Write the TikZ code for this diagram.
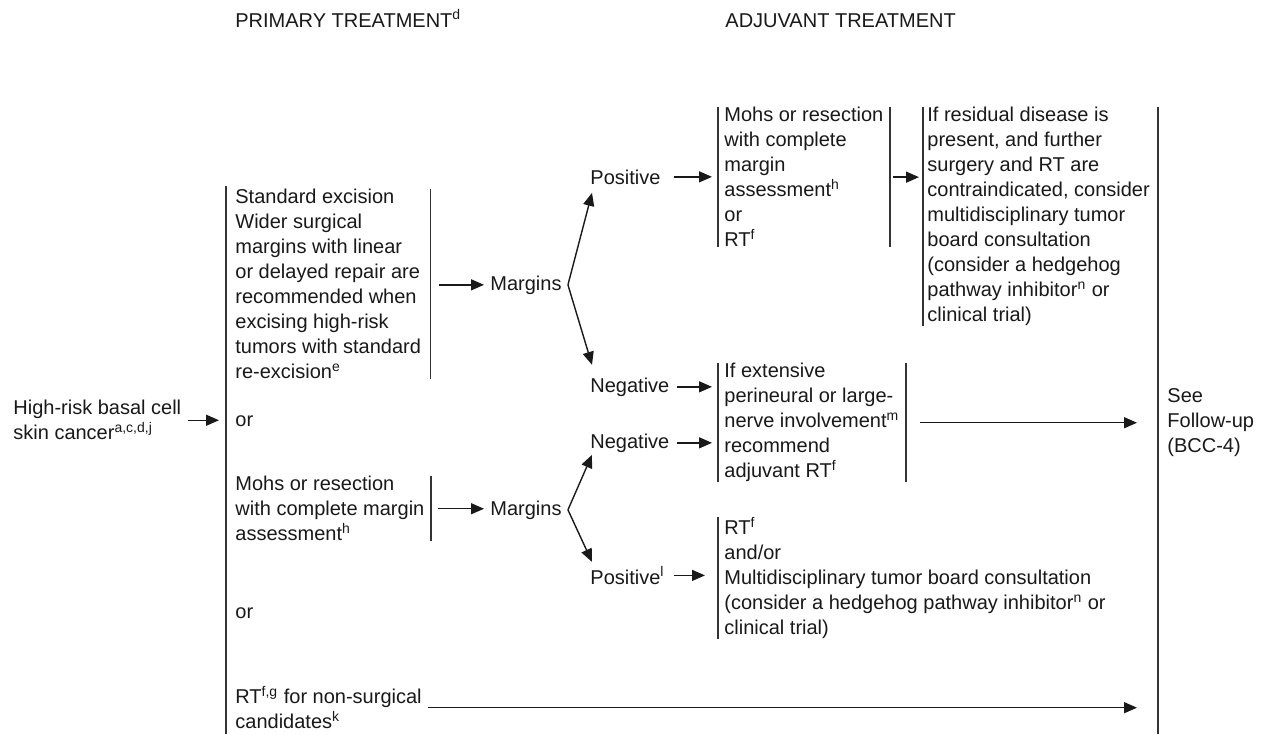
\documentclass[tikz,border=0pt]{standalone}
\usepackage{fontspec}
\setmainfont{Liberation Sans}
\usepackage{tikz}
\usetikzlibrary{arrows.meta,calc,positioning}

\begin{document}
\begin{tikzpicture}[
  x=0.5pt, y=-0.5pt,
  every node/.style={font=\fontsize{10}{12.5}\selectfont, text=black!90, inner xsep=3pt, inner ysep=0pt},
  lbl/.style={anchor=base west},
  blk/.style={anchor=north west, align=left},
  rule/.style={draw=black!80, line width=0.8pt},
  arr/.style={draw=black!90, line width=0.7pt, -{Triangle[length=6.5pt,width=5.5pt]}}
]
\fill[white] (0,0) rectangle (1267,734);
\useasboundingbox (0,0) rectangle (1267,734);
\coordinate (bot) at (0,734);

% headings
\node[lbl] (hdrP) at (229,27) {PRIMARY TREATMENT\textsuperscript{d}};
\node[lbl] (hdrA) at (719,27) {ADJUVANT TREATMENT};

% primary treatment
\node[blk] (bcc) at (7,400) {High-risk basal cell\\skin cancer\textsuperscript{a,c,d,j}};
\node[blk] (exc) at (229,189) {Standard excision\\Wider surgical\\margins with linear\\or delayed repair are\\recommended when\\excising high-risk\\tumors with standard\\re-excision\textsuperscript{e}};
\node[lbl] (or1) at (229,426) {or};
\node[blk] (mohs) at (229,476) {Mohs or resection\\with complete margin\\assessment\textsuperscript{h}};
\node[lbl] (or2) at (229,618) {or};
\node[blk] (rt) at (229,686) {RT\textsuperscript{f,g} for non-surgical\\candidates\textsuperscript{k}};

% margins
\node[lbl] (mar1) at (484,290) {Margins};
\node[lbl] (mar2) at (484,515) {Margins};
\node[lbl] (pos1) at (584,184) {Positive};
\node[lbl] (neg1) at (584,392) {Negative};
\node[lbl] (neg2) at (584,448) {Negative};
\node[lbl] (pos2) at (584,584) {Positive\textsuperscript{l}};

% adjuvant treatment
\node[blk] (reex) at (718,107) {Mohs or resection\\with complete\\margin\\assessment\textsuperscript{h}\\or\\RT\textsuperscript{f}};
\node[blk] (resid) at (921,107) {If residual disease is\\present, and further\\surgery and RT are\\contraindicated, consider\\multidisciplinary tumor\\board consultation\\(consider a hedgehog\\pathway inhibitor\textsuperscript{n} or\\clinical trial)};
\node[blk] (nerve) at (718,363) {If extensive\\perineural or large-\\nerve involvement\textsuperscript{m}\\recommend\\adjuvant RT\textsuperscript{f}};
\node[blk] (multi) at (718,517) {RT\textsuperscript{f}\\and/or\\Multidisciplinary tumor board consultation\\(consider a hedgehog pathway inhibitor\textsuperscript{n} or\\clinical trial)};
\node[blk] (fu) at (1161,388) {See\\Follow-up\\(BCC-4)};

% bars
\draw[rule] ([shift={(-1.5pt,1.5pt)}]exc.north west) -- ([xshift=-1.5pt]exc.west |- bot);
\draw[rule] ([xshift=1.5pt]exc.north east) -- ([xshift=1.5pt]exc.south east);
\draw[rule] (mohs.north east) -- (mohs.south east);
\foreach \b in {reex,nerve} {
  \draw[rule] (\b.north west) -- (\b.south west);
  \draw[rule] (\b.north east) -- (\b.south east);
}
\draw[rule] ([xshift=1pt]resid.north west) -- ([xshift=1pt]resid.south west);
\draw[rule] (multi.north west) -- (multi.south west);
\draw[rule] ([xshift=-1.5pt]fu.west |- resid.north) -- ([xshift=-1.5pt]fu.west |- bot);

% arrows
\draw[arr, shorten >=5pt] (bcc.east) -- (bcc.east -| exc.west);
\draw[arr, shorten <=6pt] (exc.east |- mar1.west) -- (mar1.west);
\draw[arr, shorten <=3.5pt] (mohs.east) -- (mohs.east -| mar2.west);
\draw[arr] (mar1.east) -- ([shift={(4pt,-8pt)}]pos1.west);
\draw[arr] (mar1.east) -- ([shift={(4pt,11pt)}]neg1.west);
\draw[arr] (mar2.east) -- ([shift={(4pt,-6pt)}]neg2.west);
\draw[arr] (mar2.east) -- ([shift={(4pt,6.75pt)}]pos2.west);
\draw[arr, shorten <=3.5pt, shorten >=3pt] (pos1.east) -- (pos1.east -| reex.west);
\draw[arr, shorten <=1.5pt, shorten >=1pt] (reex.east) -- (reex.east -| resid.west);
\draw[arr, shorten <=0.5pt, shorten >=3pt] (neg1.east) -- (neg1.east -| nerve.west);
\draw[arr, shorten <=0.5pt, shorten >=3pt] (neg2.east) -- (neg2.east -| nerve.west);
\draw[arr, shorten <=1.5pt, shorten >=6.5pt] (pos2.east) -- (pos2.east -| multi.west);
\draw[arr, shorten <=7pt, shorten >=12pt] (nerve.east) -- (nerve.east -| fu.west);
\draw[arr, shorten >=12pt] (rt.east) -- (rt.east -| fu.west);
\end{tikzpicture}
\end{document}
